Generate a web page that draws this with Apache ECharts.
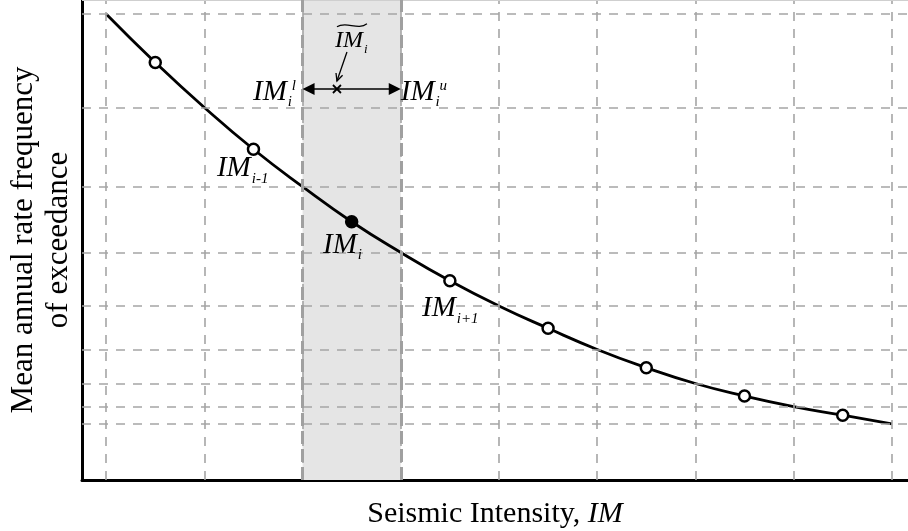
<!DOCTYPE html>
<html>
<head>
<meta charset="utf-8">
<script src="https://cdn.jsdelivr.net/npm/echarts@6/dist/echarts.min.js"></script>
<style>
  html, body { margin: 0; padding: 0; background: #fff; }
  #chart { width: 908px; height: 531px; }
</style>
</head>
<body>
<div id="chart"></div>
<script>
// Hazard curve discretised into IM bins: bin edges and bin centres
const edgeIM   = [0, 1, 2, 3, 4, 5, 6, 7, 8];
const edgeRate = [97.1, 77.6, 61.1, 47.4, 36.25, 27.2, 20.1, 15.3, 11.7];
const binIM    = [0.5, 1.5, 2.5, 3.5, 4.5, 5.5, 6.5, 7.5];
const binRate  = [87.0, 68.9, 53.8, 41.5, 31.6, 23.4, 17.5, 13.5];
const currentBin = 2;          // bin "i"
const medianIM   = 2.35;       // representative IM~_i inside bin i
const arrowRate  = 81.46;      // level of the IM^l <-> IM^u arrow

// Text annotations: anchor = left / cap-centre of "IM"
const labels = [
  { x: 1.128, y: 64.9,  sub: 'i-1', sup: '' },
  { x: 2.208, y: 48.96, sub: 'i',   sup: '' },
  { x: 3.216, y: 35.73, sub: 'i+1', sup: '' },
  { x: 1.495, y: 80.83, sub: 'i',   sup: 'l' },
  { x: 3.0,   y: 80.83, sub: 'i',   sup: 'u' },
  { x: 2.33,  y: 91.46, sub: 'i',   sup: '', tilde: true }
];
const pointerFrom = [2.452, 89.17];

const SERIF = '"Liberation Serif", "Times New Roman", serif';
const GRID_GREY = '#a5a5a5';

// curve through edges and centres, in IM order
const curve = [];
edgeIM.forEach((e, k) => {
  curve.push([e, edgeRate[k]]);
  if (k < binIM.length) curve.push([binIM[k], binRate[k]]);
});

const measureCtx = document.createElement('canvas').getContext('2d');
function textWidth(txt, size) {
  measureCtx.font = 'italic ' + size + 'px ' + SERIF;
  return measureCtx.measureText(txt).width;
}

const chart = echarts.init(document.getElementById('chart'), null, { renderer: 'canvas' });

chart.setOption({
  animation: false,
  backgroundColor: '#fff',
  grid: { left: 82, right: 0, top: 0, bottom: 51, containLabel: false, outerBoundsMode: 'none' },
  xAxis: {
    type: 'value', min: -0.246, max: 8.165,
    axisLine: { show: true, onZero: false, lineStyle: { color: '#000', width: 3 } },
    axisTick: { show: false }, axisLabel: { show: false }, splitLine: { show: false },
    name: 'Seismic Intensity, {it|IM}',
    nameLocation: 'middle', nameGap: 19,
    nameTextStyle: {
      fontFamily: SERIF, fontSize: 30, color: '#000', verticalAlign: 'top',
      rich: { it: { fontFamily: SERIF, fontSize: 30, fontStyle: 'italic', color: '#000' } }
    }
  },
  yAxis: {
    type: 'value', min: 0, max: 100,
    axisLine: { show: true, onZero: false, lineStyle: { color: '#000', width: 3 } },
    axisTick: { show: false }, axisLabel: { show: false }, splitLine: { show: false },
    name: 'Mean annual rate frequency\nof exceedance',
    nameLocation: 'middle', nameRotate: 90, nameGap: 6,
    nameTextStyle: { fontFamily: SERIF, fontSize: 31, color: '#000', lineHeight: 35, align: 'center' }
  },
  series: [
    { // shaded bin i
      type: 'line', data: [], z: 1, silent: true,
      markArea: {
        silent: true,
        itemStyle: { color: '#e5e5e5' },
        data: [[{ xAxis: edgeIM[currentBin] }, { xAxis: edgeIM[currentBin + 1] }]]
      }
    },
    { // dashed grid at bin edges and the curve values there
      type: 'line', data: [], z: 2, silent: true,
      markLine: {
        silent: true, symbol: 'none', label: { show: false },
        lineStyle: { color: GRID_GREY, width: 1.6, type: [9, 8] },
        data: edgeIM.map(v => ({ xAxis: v })).concat(edgeRate.map(v => ({ yAxis: v })))
      }
    },
    { // frame top and bin i borders
      type: 'line', data: [], z: 3, silent: true,
      markLine: {
        silent: true, symbol: 'none', label: { show: false },
        data: [
          { yAxis: 100, lineStyle: { color: '#cfcfcf', width: 2, type: 'solid' } },
          { xAxis: edgeIM[currentBin], lineStyle: { color: '#a0a0a0', width: 3, type: [13, 5] } },
          { xAxis: edgeIM[currentBin + 1], lineStyle: { color: '#a0a0a0', width: 3, type: [13, 5] } }
        ]
      }
    },
    { // hazard curve
      type: 'line', data: curve, z: 4, smooth: 0.5, showSymbol: false, silent: true,
      lineStyle: { color: '#000', width: 2.8 }
    },
    { // bin representative points
      type: 'scatter', z: 5, silent: true,
      symbol: 'circle', symbolSize: 11,
      data: binIM.map((x, k) => ({
        value: [x, binRate[k]],
        itemStyle: k === currentBin
          ? { color: '#000', borderColor: '#000', borderWidth: 2.5, opacity: 1 }
          : { color: '#fff', borderColor: '#000', borderWidth: 2.5, opacity: 1 }
      }))
    },
    { // IM^l <-> IM^u arrow, IM~ marker and its pointer
      type: 'custom', z: 6, silent: true,
      data: [[medianIM, arrowRate]],
      renderItem: function (params, api) {
        const a = api.coord([edgeIM[currentBin], arrowRate]);
        const b = api.coord([edgeIM[currentBin + 1], arrowRate]);
        const m = api.coord([medianIM, arrowRate]);
        const p = api.coord(pointerFrom);
        const hl = 12, hw = 6;
        const blk = { stroke: '#000', lineWidth: 1.6, fill: null };
        // pointer head
        const tip = [m[0], m[1] - 8];
        const dx = tip[0] - p[0], dy = tip[1] - p[1];
        const len = Math.sqrt(dx * dx + dy * dy);
        const ux = dx / len, uy = dy / len;
        const back = 8, spread = 0.45;
        const c = Math.cos(spread), s = Math.sin(spread);
        const l1 = [tip[0] - back * (ux * c - uy * s), tip[1] - back * (uy * c + ux * s)];
        const l2 = [tip[0] - back * (ux * c + uy * s), tip[1] - back * (uy * c - ux * s)];
        return {
          type: 'group',
          children: [
            { type: 'line', shape: { x1: a[0] + hl - 1, y1: a[1], x2: b[0] - hl + 1, y2: b[1] }, style: blk },
            { type: 'polygon', shape: { points: [[a[0], a[1]], [a[0] + hl, a[1] - hw], [a[0] + hl, a[1] + hw]] }, style: { fill: '#000' } },
            { type: 'polygon', shape: { points: [[b[0], b[1]], [b[0] - hl, b[1] - hw], [b[0] - hl, b[1] + hw]] }, style: { fill: '#000' } },
            { type: 'line', shape: { x1: m[0] - 4, y1: m[1] - 4, x2: m[0] + 4, y2: m[1] + 4 }, style: { stroke: '#000', lineWidth: 1.8 } },
            { type: 'line', shape: { x1: m[0] - 4, y1: m[1] + 4, x2: m[0] + 4, y2: m[1] - 4 }, style: { stroke: '#000', lineWidth: 1.8 } },
            { type: 'line', shape: { x1: p[0], y1: p[1], x2: tip[0], y2: tip[1] }, style: { stroke: '#000', lineWidth: 1.3 } },
            { type: 'polyline', shape: { points: [l1, tip, l2] }, style: { stroke: '#000', lineWidth: 1.3, fill: null } }
          ]
        };
      }
    },
    { // IM labels with sub/superscripts
      type: 'custom', z: 7, silent: true,
      data: labels.map(l => [l.x, l.y]),
      renderItem: function (params, api) {
        const l = labels[params.dataIndex];
        const pt = api.coord([l.x, l.y]);
        const size = l.tilde ? 24 : 29;
        const subSize = l.tilde ? 13 : 15;
        const w = textWidth('IM', size);
        const children = [
          { type: 'text', x: pt[0], y: pt[1],
            style: { text: 'IM', fontFamily: SERIF, fontSize: size, fontStyle: 'italic', fill: '#000', align: 'left', verticalAlign: 'middle' } },
          { type: 'text', x: pt[0] + w + 1, y: pt[1] + size * 0.36,
            style: { text: l.sub, fontFamily: SERIF, fontSize: subSize, fontStyle: 'italic', fill: '#000', align: 'left', verticalAlign: 'middle' } }
        ];
        if (l.sup) {
          children.push({ type: 'text', x: pt[0] + w + 5, y: pt[1] - size * 0.22,
            style: { text: l.sup, fontFamily: SERIF, fontSize: subSize, fontStyle: 'italic', fill: '#000', align: 'left', verticalAlign: 'middle' } });
        }
        if (l.tilde) {
          const x0 = pt[0] + 2, x1 = pt[0] + w + 4, y0 = pt[1] - size * 0.55;
          const wdt = x1 - x0;
          children.push({ type: 'bezierCurve',
            shape: { x1: x0, y1: y0 - 1, cpx1: x0 + wdt * 0.3, cpy1: y0 - 7, cpx2: x0 + wdt * 0.7, cpy2: y0 + 3, x2: x1, y2: y0 - 4 },
            style: { stroke: '#000', lineWidth: 1.2, fill: null } });
        }
        return { type: 'group', children: children };
      }
    }
  ]
});
</script>
</body>
</html>
